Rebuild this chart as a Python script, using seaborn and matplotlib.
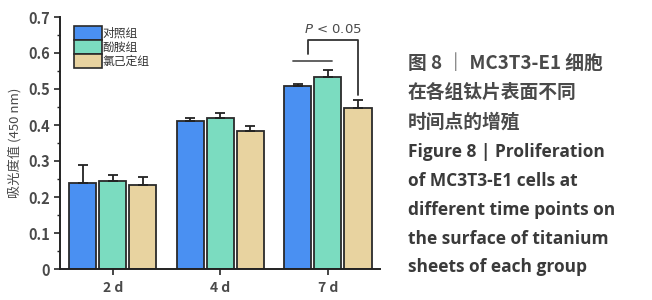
import numpy as np
import pandas as pd
import matplotlib
matplotlib.use("Agg")
import matplotlib.pyplot as plt
import seaborn as sns
from matplotlib.patches import Patch
from matplotlib.ticker import MultipleLocator, FuncFormatter

# data
days = ["2 d", "4 d", "7 d"]
groups = ["对照组", "酚胺组", "氯己定组"]
means_ctrl = [0.240, 0.410, 0.508]
means_phen = [0.245, 0.420, 0.533]
means_chx = [0.232, 0.383, 0.447]
err_ctrl = [0.050, 0.010, 0.006]
err_phen = [0.016, 0.012, 0.020]
err_chx = [0.024, 0.015, 0.023]
colors = ["#4A90F2", "#7BDCC0", "#E8D3A0"]

caption_cn = ["图 8 ｜ MC3T3-E1 细胞", "在各组钛片表面不同", "时间点的增殖"]
caption_en = ["Figure 8 | Proliferation", "of MC3T3-E1 cells at",
              "different time points on", "the surface of titanium",
              "sheets of each group"]

df = pd.DataFrame({
    "day": days * 3,
    "group": [g for g in groups for _ in days],
    "value": means_ctrl + means_phen + means_chx,
    "err": err_ctrl + err_phen + err_chx,
})

sns.set_theme(style="white")
plt.rcParams["font.family"] = ["Noto Sans CJK SC", "DejaVu Sans"]
grey = "#4a4a4a"

fig = plt.figure(figsize=(6.52, 3.0), dpi=100)
ax = fig.add_axes([60 / 652, 1 - 269 / 300, 320 / 652, 252 / 300])

sns.barplot(data=df, x="day", y="value", hue="group", hue_order=groups,
            palette=colors, saturation=1, width=0.84, gap=0.1, errorbar=None,
            edgecolor="#2a2a2a", linewidth=1.3, legend=False, ax=ax)

# error bars (upper only) placed on the bars seaborn drew
# patches come out hue by hue, day by day - same order as df rows
bars = [p for p in ax.patches if p.get_height() > 0]
for p, e in zip(bars, df["err"]):
    xc = p.get_x() + p.get_width() / 2
    ax.errorbar(xc, p.get_height(), yerr=[[0], [e]], fmt="none",
                ecolor="#222222", elinewidth=1.3, capsize=3.5, capthick=1.3)

ax.set_xlim(-0.49, 2.485)
ax.set_ylim(0, 0.7)
ax.yaxis.set_major_locator(MultipleLocator(0.1))
ax.yaxis.set_minor_locator(MultipleLocator(0.05))
ax.yaxis.set_major_formatter(FuncFormatter(lambda v, pos: "0" if abs(v) < 1e-9 else f"{v:.1f}"))
ax.tick_params(axis="y", which="major", direction="out", length=4, width=1.2,
               left=True, labelsize=10.5, labelcolor=grey, pad=3)
ax.tick_params(axis="y", which="minor", direction="out", length=2, width=1, left=True)
ax.tick_params(axis="x", direction="out", length=4, width=1.2, bottom=True,
               labelsize=10, labelcolor=grey, pad=5)
for lbl in ax.get_xticklabels() + ax.get_yticklabels():
    lbl.set_fontweight("bold")
ax.set_xlabel("")
ax.set_ylabel("吸光度值 (450 nm)", fontsize=9.5, color=grey, labelpad=5)
sns.despine(ax=ax)
for s in ["left", "bottom"]:
    ax.spines[s].set_color("#222222")
    ax.spines[s].set_linewidth(1.4)

# significance marks over 7 d
b7 = [bars[2], bars[5], bars[8]]
xs = [p.get_x() + p.get_width() / 2 for p in b7]
ax.plot([xs[0] - 0.04, xs[1] + 0.04], [0.578, 0.578], color="#555555", lw=1.3)
xl = xs[0] + 0.1
ax.plot([xl, xl, xs[2], xs[2]], [0.597, 0.635, 0.635, 0.483],
        color="#333333", lw=1.3)
ax.text((xl + xs[2]) / 2, 0.648, "$P$ < 0.05", ha="center",
        va="bottom", fontsize=9.5, color=grey, family=["DejaVu Sans"])

handles = [Patch(facecolor=c, edgecolor="#2a2a2a", linewidth=1.2) for c in colors]
ax.legend(handles, groups, loc="upper left", bbox_to_anchor=(0.028, 0.985),
          frameon=False, handlelength=2.4, handleheight=1.45, labelspacing=0.0,
          handletextpad=0.0, borderaxespad=0, fontsize=8.5,
          labelcolor="#333333")

# caption
y = 1 - 63 / 300
for line in caption_cn:
    fig.text(408 / 652, y, line, fontsize=13.5, color=grey, va="center",
             fontweight="bold")
    y -= 29.5 / 300
for line in caption_en:
    fig.text(408 / 652, y, line, fontsize=12.5, color="#3a3a3a", va="center",
             fontweight="bold", family=["Open Sans", "DejaVu Sans"])
    y -= 29 / 300

fig.savefig("out.png", dpi=100)
